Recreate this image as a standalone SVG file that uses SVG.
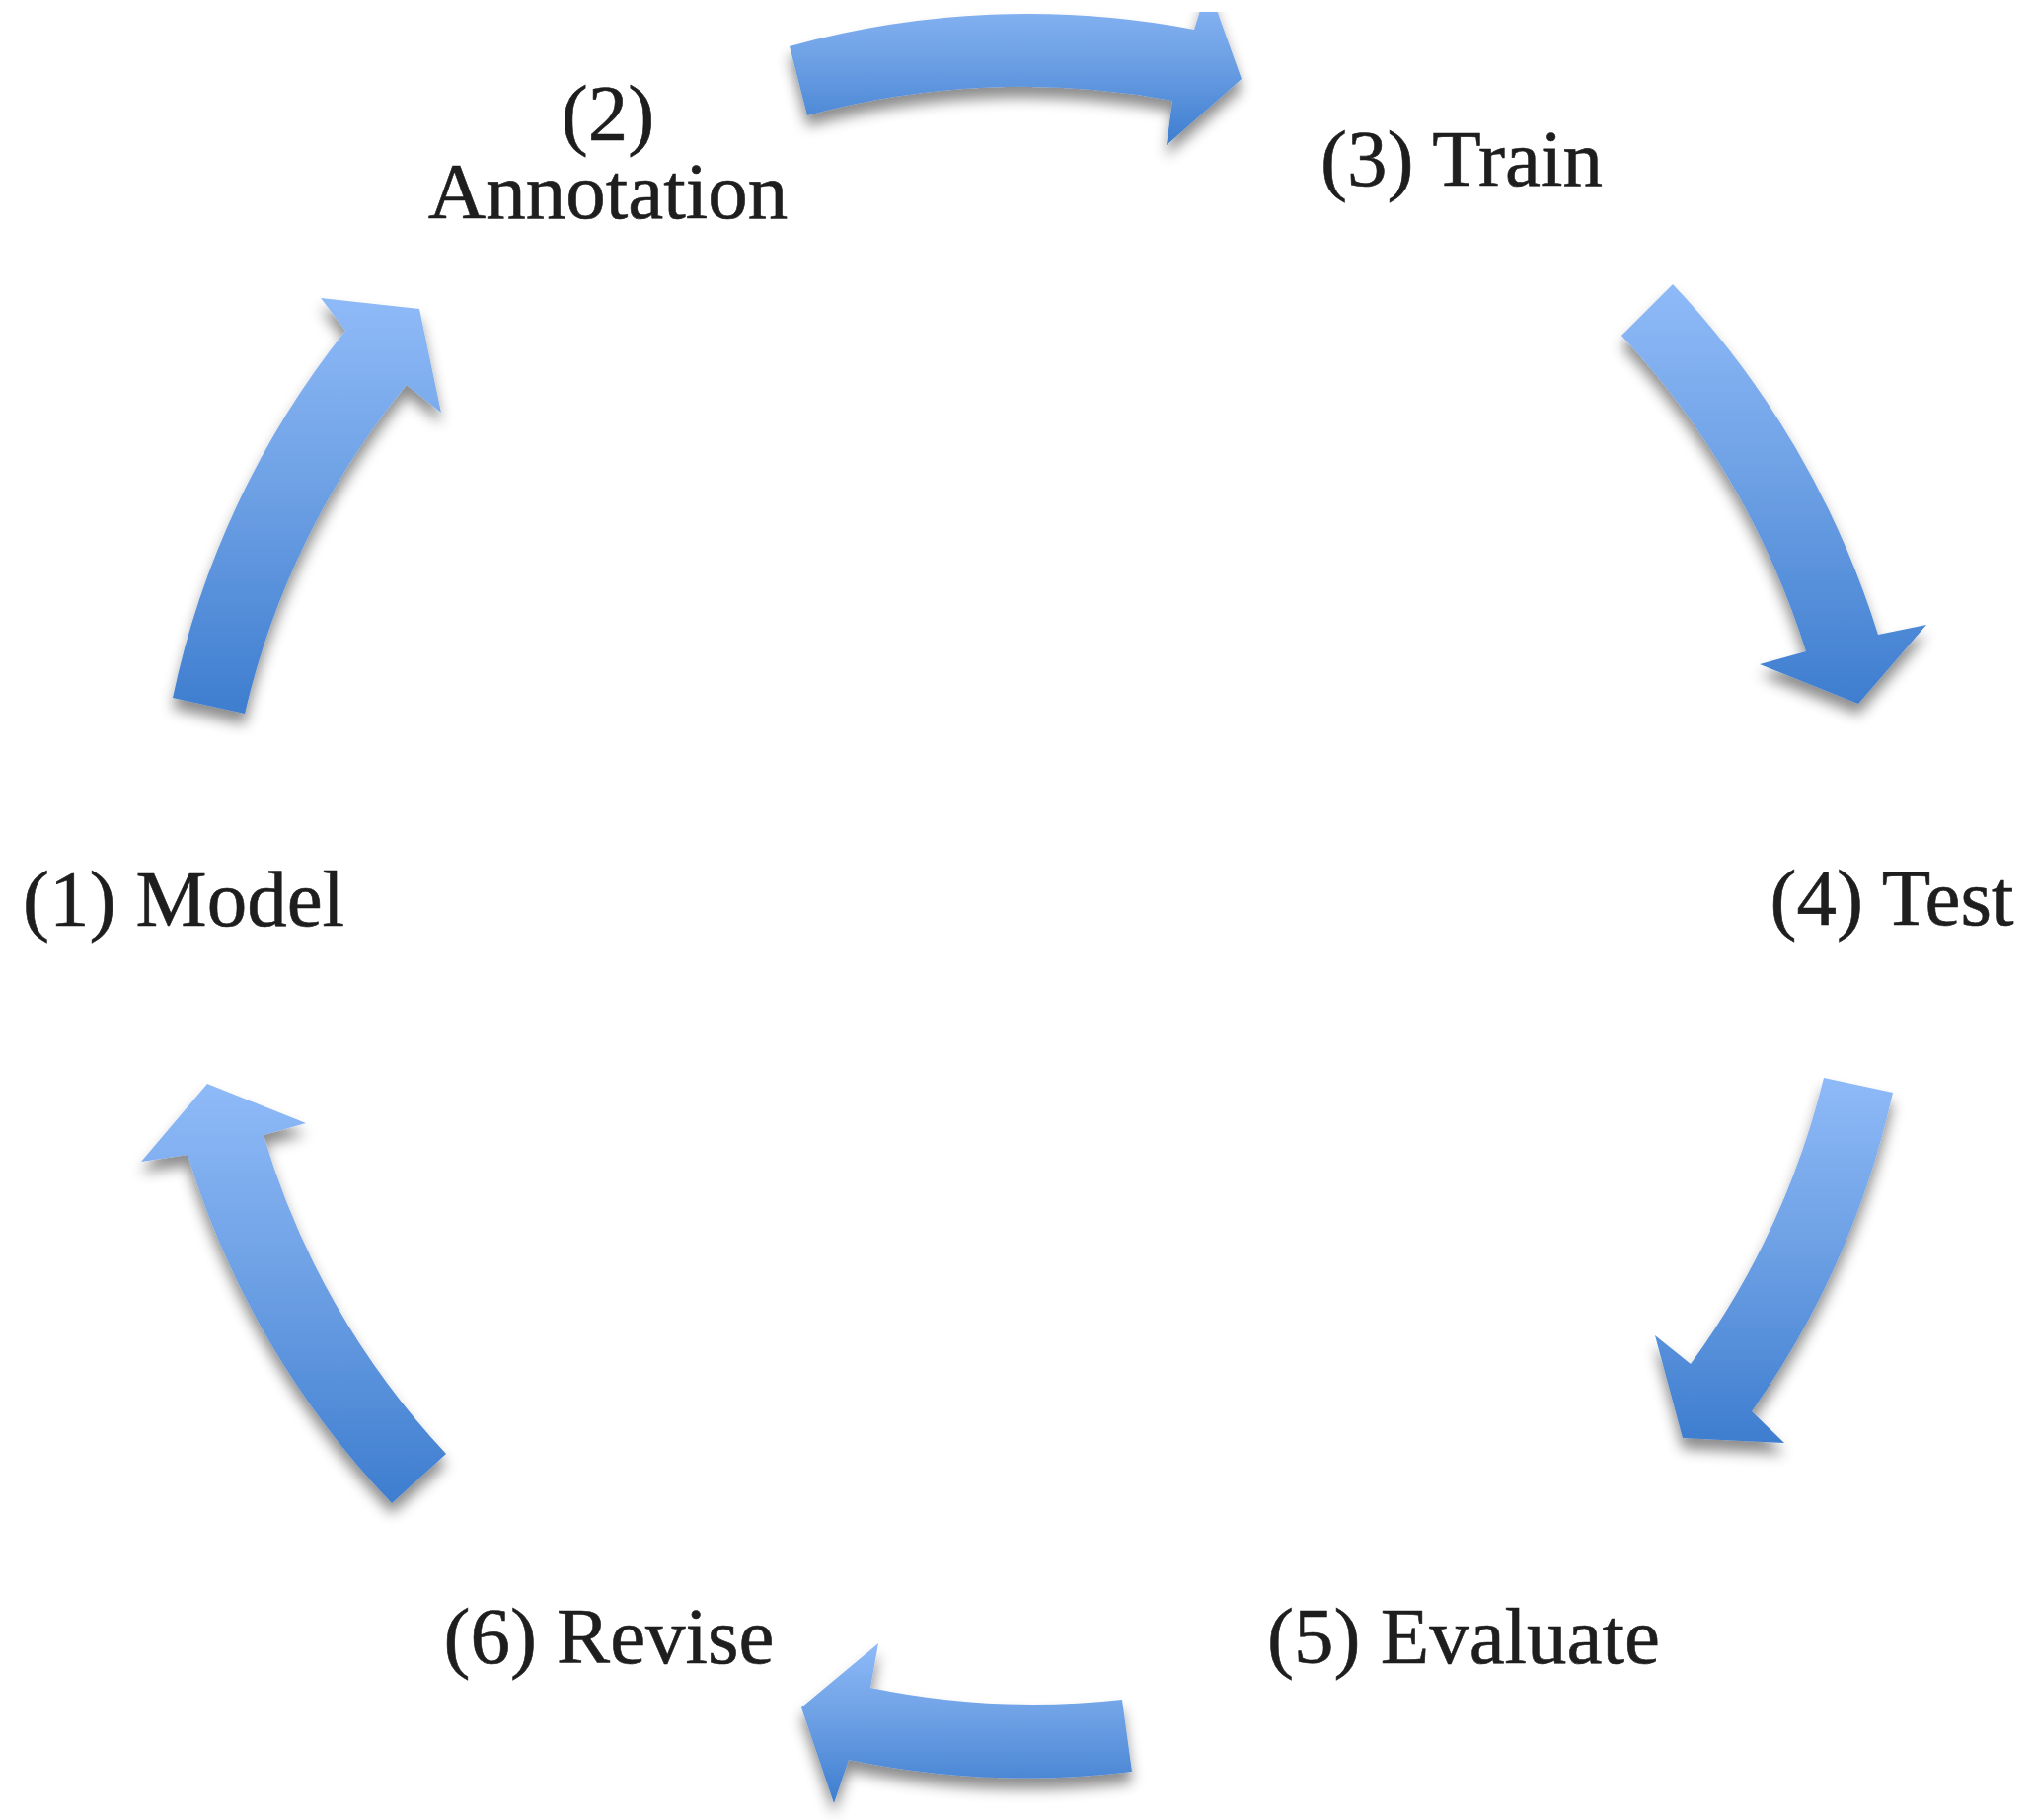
<svg xmlns="http://www.w3.org/2000/svg" width="2061" height="1844" viewBox="0 0 2061 1844">
  <style>
    .label { font-family: "Liberation Serif", "Times New Roman", serif; font-size: 81px; fill: #1e1e1e; stroke: #1e1e1e; stroke-width: 0.6; text-anchor: middle; }
    .arrow { fill: url(#arrowFill); filter: url(#arrowShadow); }
  </style>
  <defs>
    <linearGradient id="arrowFill" x1="0" y1="0" x2="0" y2="1">
      <stop offset="0" stop-color="#8fbaf8"/>
      <stop offset="0.5" stop-color="#6a9ee3"/>
      <stop offset="1" stop-color="#3e7dcf"/>
    </linearGradient>
    <filter id="arrowShadow" x="-20%" y="-20%" width="140%" height="150%">
      <feDropShadow dx="0" dy="11" stdDeviation="7" flood-color="#000" flood-opacity="0.45"/>
    </filter>
    <clipPath id="page">
      <rect x="0" y="12" width="2061" height="1832"/>
    </clipPath>
  </defs>

  <rect width="2061" height="1844" fill="#ffffff"/>

  <!-- curved arrows running clockwise around the cycle -->
  <g id="connectors" clip-path="url(#page)">
    <path id="arrow-1-2" class="arrow" d="M175,707 A890,890 0 0 1 350,335 L325,302 L425,313 L447,418 L412,390 A812,812 0 0 0 248,723 Z"/>
    <path id="arrow-2-3" class="arrow" d="M800,47 A900,900 0 0 1 1210,30 L1224,-15 L1258,80 L1182,147 L1188,102 A827,827 0 0 0 818,117 Z"/>
    <path id="arrow-3-4" class="arrow" d="M1695,288 A910,910 0 0 1 1903,643 L1952,633 L1883,713 L1783,673 L1830,660 A836,836 0 0 0 1643,340 Z"/>
    <path id="arrow-4-5" class="arrow" d="M1918,1107 A902,902 0 0 1 1775,1430 L1808,1462 L1705,1457 L1677,1353 L1713,1382 A828,828 0 0 0 1848,1092 Z"/>
    <path id="arrow-5-6" class="arrow" d="M1147,1795 A886,886 0 0 1 860,1783 L845,1827 L812,1730 L890,1665 L882,1710 A811,811 0 0 0 1137,1722 Z"/>
    <path id="arrow-6-1" class="arrow" d="M397,1523 A882,882 0 0 1 190,1170 L143,1177 L210,1098 L310,1138 L267,1150 A805,805 0 0 0 452,1473 Z"/>
  </g>

  <!-- stage labels -->
  <g id="node-1">
    <text class="label" x="186" y="938">(1) Model</text>
  </g>
  <g id="node-2">
    <text class="label" x="616" y="142">(2)</text>
    <text class="label" x="616" y="221">Annotation</text>
  </g>
  <g id="node-3">
    <text class="label" x="1481" y="188">(3) Train</text>
  </g>
  <g id="node-4">
    <text class="label" x="1917" y="937">(4) Test</text>
  </g>
  <g id="node-5">
    <text class="label" x="1483" y="1685">(5) Evaluate</text>
  </g>
  <g id="node-6">
    <text class="label" x="617" y="1685">(6) Revise</text>
  </g>
</svg>
